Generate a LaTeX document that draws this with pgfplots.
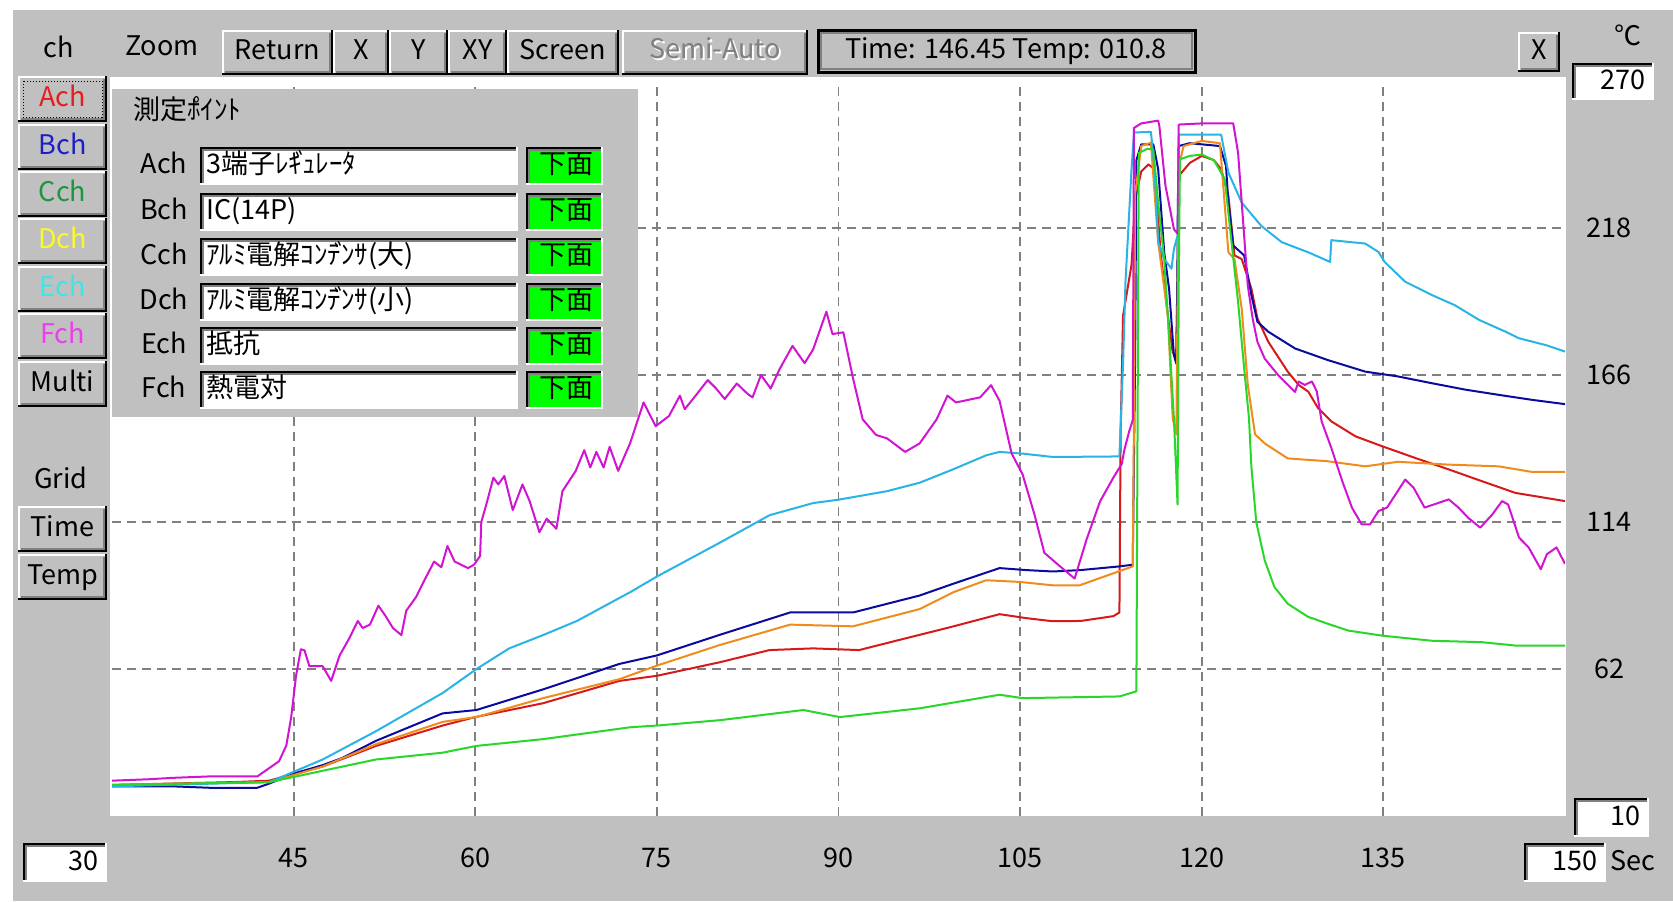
\documentclass[border=0pt]{standalone}
\usepackage{fontspec}
\setmainfont{Noto Sans CJK JP}
\usepackage{pgfplots}
\pgfplotsset{compat=1.18}

\definecolor{wingray}{RGB}{192,192,192}
\definecolor{dkgray}{RGB}{128,128,128}
\definecolor{cA}{RGB}{215,25,25}
\definecolor{cB}{RGB}{10,10,160}
\definecolor{cC}{RGB}{40,215,40}
\definecolor{cD}{RGB}{240,140,30}
\definecolor{cE}{RGB}{40,180,230}
\definecolor{cF}{RGB}{210,20,210}
\definecolor{okgreen}{RGB}{0,255,0}
\definecolor{tA}{RGB}{230,30,30}
\definecolor{tB}{RGB}{30,30,200}
\definecolor{tC}{RGB}{30,150,60}
\definecolor{tD}{RGB}{250,250,40}
\definecolor{tE}{RGB}{60,230,230}
\definecolor{tF}{RGB}{240,60,240}

\newcommand{\uif}{\fontsize{13.5}{14}\selectfont}
\newcommand{\dk}{\kern-0.26em ﾞ\kern-0.24em\relax}  % tight half-width dakuten
\newcommand{\hdk}{\kern-0.26em ﾟ\kern-0.24em\relax} % tight half-width handakuten

% raised button: x1 y1 x2 y2 label
\newcommand{\rbtn}[5]{%
  \fill[wingray] (#1,#2) rectangle (#3,#4);
  \draw[white,line width=1pt] (#1+1,#4) -- (#1+1,#2+1) -- (#3,#2+1);
  \draw[black,line width=1pt] (#1,#4-1) -- (#3-1,#4-1) -- (#3-1,#2);
  \draw[dkgray,line width=1pt] (#1+3,#4-3) -- (#3-3,#4-3) -- (#3-3,#2+3);
  \node[ui] at ({(#1+#3)/2},{(#2+#4)/2}) {#5};
}
% sunken box: x1 y1 x2 y2 fill
\newcommand{\sunk}[5]{%
  \fill[#5] (#1,#2) rectangle (#3,#4);
  \draw[black,line width=1.5pt] (#1+1,#4) -- (#1+1,#2+1) -- (#3,#2+1);
  \draw[dkgray,line width=1pt] (#1+3,#4-1) -- (#1+3,#2+3) -- (#3-1,#2+3);
  \draw[white,line width=1pt] (#1,#4-1) -- (#3-1,#4-1) -- (#3-1,#2);
}

\begin{document}
\begin{tikzpicture}[ui/.style={font=\uif, inner sep=0pt, text height=0.73em, text depth=0pt}]
% background
\begin{scope}[x=0.5pt,y=-0.5pt]
  \fill[white] (0,0) rectangle (1673,901);
  \fill[wingray] (13,10) rectangle (1673,901);
  \fill[white] (110,77) rectangle (1566,816);
\end{scope}

\begin{axis}[
    at={(56pt,-408pt)}, anchor=south west,
    scale only axis, width=726.5pt, height=367.5pt,
    xmin=30, xmax=150, ymin=10, ymax=270,
    axis line style={draw=none},
    major tick length=0pt,
    xtick={45,60,75,90,105,120,135},
    xticklabels={45,60,75,90,105,120,135},
    ytick={62,114,166,218},
    yticklabels={62,114,166,218},
    yticklabel pos=right,
    grid=major,
    grid style={dkgray, line width=0.9pt, dash pattern=on 4.5pt off 3pt},
    xticklabel style={font=\uif, anchor=center, yshift=-21pt, inner sep=0pt},
    yticklabel style={font=\uif, anchor=center, xshift=22pt, inner sep=0pt},
    every axis plot/.append style={line width=1pt, line join=round},
]
% Ach  3-terminal regulator
\addplot[cA] coordinates {
(30,21) (35,21.5) (40,22) (43,22.5) (45,25) (47.4,27.5) (51.8,34.8) (57.3,42) (60,45) (65.6,49.9)
(71.9,57.8) (75,59.6) (80.2,64.4) (84.3,68.7) (87.9,69.3) (91.7,68.7) (96.7,74.1) (99.5,77.1)
(103.3,81.4) (105.5,80) (107.7,78.9) (110,79) (112.7,80.7) (113.2,82) (113.3,146) (113.5,187)
(114.2,205) (114.5,228) (115,238) (115.6,240.5) (116.1,238.8) (116.6,209.4) (117.2,187) (117.6,174)
(117.9,172) (118,200) (118.1,236.4) (119,241) (120,243.5) (121,242) (121.6,238.8) (122.2,229.4)
(122.7,208.3) (123.3,207) (124.1,196.5) (124.6,186) (125.5,177.7) (127.1,167.2) (128,162.5)
(128.8,160.1) (129.6,154.3) (130.7,149.6) (132.7,144.3) (134.9,140.8) (137.6,136.7) (140.4,132.6)
(143.1,128.5) (145.9,124.3) (150,121.4)
};
% Bch  IC
\addplot[cB] coordinates {
(30,20.5) (35,20.5) (38,20) (42,20) (43,21.5) (45,25) (47.4,28) (49,30.5) (51.8,36.6) (57.3,46.3)
(60.1,47.5) (65.6,54.8) (71.9,63.8) (75,66.8) (80.2,74.1) (86,82) (91.2,82) (96.7,88) (99.5,92.2)
(103.3,97.7) (105.5,97) (107.7,96.5) (110,97) (113.2,98.3) (114.3,98.9) (114.5,174) (114.6,242)
(115,247.6) (116,247.6) (116.4,238.8) (116.9,209.4) (117.3,196.5) (117.7,173) (117.9,170)
(118.1,247) (119,248) (121.5,247) (122,240) (122.2,227) (122.6,211.8) (123.5,208.3) (124.1,194.2)
(124.6,184.8) (125.5,181.3) (127.7,175.4) (130.4,171.3) (133.5,167.2) (136.2,165.5) (139,163.1)
(141.8,160.8) (144.5,159) (147.3,157.2) (150,155.7)
};
% Dch  small electrolytic capacitor
\addplot[cD] coordinates {
(30,21) (43,22) (45,24.5) (47.4,27.5) (51.8,35.4) (57.3,43.3) (60.1,45) (65.6,51.7) (71.9,58.4)
(75,63.2) (80.2,70.5) (86,77.7) (91.2,77.1) (96.7,83.2) (99.5,89.2) (102.2,93.4) (105,92.8)
(107.7,91.6) (109.9,91.6) (114.3,98.3) (114.4,150) (114.5,230) (115,247) (115.8,248.2) (116.4,213)
(117.2,187.1) (117.6,150.7) (117.9,145) (118.1,240) (118.5,247) (120,248.8) (121.5,248) (122.2,209.4)
(122.7,207) (123.3,189.5) (123.8,162.5) (124.4,145) (125.2,141.8) (127.1,136.5) (130.4,135.5)
(133.5,133.7) (136.2,135.3) (140.4,134.3) (144.5,133.7) (147.3,131.7) (150,131.7)
};
% Ech  resistor
\addplot[cE] coordinates {
(30,20.5) (43,22) (45.2,26) (47.4,30) (51.8,40) (57.3,53.5) (60.1,62) (62.8,69.3) (65.6,74)
(68.4,79) (72.8,89.2) (75,94.7) (80.2,106.7) (84.3,116.4) (87.9,120.7) (90,121.9) (94,124.9)
(96.7,127.9) (99.5,132.7) (102.2,137.6) (103.3,138.8) (105.2,138.2) (107.7,137) (113.2,137.2)
(113.5,170) (113.7,199) (114.2,238.8) (114.4,251.8) (115.8,252) (116.1,238.8) (116.4,213)
(116.9,207) (117.5,203.6) (117.7,210.6) (118,215.3) (118.1,251) (121.6,251) (122.2,237.6)
(123.3,227) (124.9,218.8) (126.6,213) (128,210.7) (128.8,209.4) (130.6,206) (130.7,213.7)
(133.5,212.5) (134.6,209.5) (135.1,206) (136.8,199) (139,194.3) (140.9,190.7) (142.9,185.5)
(145.1,181.3) (146.2,179) (148.4,176.6) (150,174.3)
};
% Fch  thermocouple
\addplot[cF] coordinates {
(30,22.5) (33,23) (35,23.5) (38,24) (42,24) (43,27) (43.8,29.4) (44.4,35) (44.8,45) (45.2,59.6)
(45.6,69) (45.9,68.6) (46.3,63) (47.4,63) (48.1,57.8) (48.8,66.8) (49.6,72.9) (50.3,79) (50.7,76.5)
(51.3,77.7) (52,84.4) (52.6,80.7) (53.2,76.5) (53.9,74) (54.3,82.6) (55.1,87.4) (55.8,93.4)
(56.6,100) (57.2,98) (57.7,105.5) (58.3,100) (59.4,97.7) (59.9,98.9) (60.4,102) (60.5,114)
(60.9,120) (61.5,129.7) (61.9,127.3) (62.4,130.3) (63.1,118.2) (63.9,127.3) (64.5,121.3)
(65.3,110.4) (65.9,115.2) (66.7,111.6) (67.2,124.9) (68.3,132.1) (69,139.4) (69.5,133.3) (70,138.8)
(70.6,133.3) (71.1,140.6) (71.8,132.1) (72.8,142) (73.9,156.3) (74.9,147.9) (76,151.5) (76.9,158.7)
(77.3,153.9) (78.2,158.7) (79.2,164.2) (79.9,161.2) (80.6,157.5) (81.6,163) (82.5,159.3)
(82.9,158.1) (83.6,166) (84.4,161.2) (85.1,167.8) (86.2,176.3) (87.2,170.2) (87.9,175) (89,188.4)
(89.5,180.5) (90.4,181.1) (91.2,164.8) (92,150.3) (93.1,144.8) (94,143.6) (95.5,138.8) (96.7,141.8)
(98.1,150.3) (99,158.7) (99.7,156.3) (101.7,158.1) (102.6,162.4) (103.3,156.9) (104.3,138.2)
(105.2,130.9) (106.2,116.4) (107,103.1) (108.3,98.3) (109.5,94) (110.5,108) (111.6,121.3)
(112.7,129.7) (113.4,134.6) (113.6,139.4) (114,146) (114.3,150) (114.4,253.4) (115,255) (116.4,256)
(116.5,254) (117,233) (117.7,217.6) (118,216) (118.1,254.6) (120,255) (122.6,255) (123,244.6)
(123.5,215.3) (123.8,197.7) (124.2,186) (124.6,177.7) (125.2,171.8) (126.3,166) (127.7,160)
(128,163.7) (128.5,162.5) (129.1,163.7) (129.5,160.2) (129.9,149.6) (130.7,140.2) (131.6,128.5)
(132.4,119.1) (133.2,113.2) (133.9,113.2) (134.6,117.9) (135.3,119.1) (136.8,129) (137.5,126.1)
(138.4,119.1) (140.4,122) (141.2,119.1) (142,115.5) (143,112) (144,116.7) (144.8,121.4)
(145.3,120.2) (146.2,108.5) (147,105) (148,97.3) (148.5,102.6) (149.3,105) (150,99.2)
};
% Cch  large electrolytic capacitor
\addplot[cC] coordinates {
(30,21) (43,22) (45.2,24) (51.8,30) (57.3,32.4) (60.1,34.8) (65.6,37.2) (72.8,41.4) (75,42)
(80.2,43.9) (87.1,47.5) (90.1,45) (96.7,48.1) (103.3,52.9) (105.2,51.7) (113.2,52.3) (114.6,54.1)
(114.7,150) (114.8,244.6) (115.5,246) (116,245.8) (116.4,227) (116.9,207) (117.3,180) (117.7,150.7)
(118,120.2) (118.1,200) (118.2,242.3) (119,243.5) (120,244) (121,242) (121.9,235.3) (122.4,215.3)
(123,191.8) (123.5,168.4) (123.9,150.7) (124.1,133.4) (124.5,114) (125.2,100.4) (126,91)
(127.1,85.1) (128,82.6) (128.8,80.4) (129.3,79.7) (130.4,78) (132.1,75.6) (134.9,73.8) (139,72)
(143.1,71.5) (145.9,70.3) (150,70.3)
};
\end{axis}

% window chrome drawn on top
\begin{scope}[x=0.5pt,y=-0.5pt]
  % top bar
  \node[ui] at (59,50) {ch};
  \node[ui] at (162,48) {Zoom};
  \rbtn{222}{30}{333}{75}{Return}
  \rbtn{333}{30}{389}{75}{X}
  \rbtn{389}{30}{448}{75}{Y}
  \rbtn{448}{30}{507}{75}{XY}
  \rbtn{507}{30}{619}{75}{Screen}
  \rbtn{622}{30}{808}{75}{}
  \node[ui,white] at (717,53) {Semi-Auto};
  \node[ui,dkgray] at (715,51) {Semi-Auto};
  \fill[wingray] (818,30) rectangle (1195,72);
  \draw[black,line width=1.5pt] (818,30) rectangle (1195,72);
  \draw[dkgray,line width=0.7pt] (821,33) rectangle (1192,69);
  \node[ui] at (1006,51) {Time: 146.45 Temp: 010.8};
  \rbtn{1518}{32}{1560}{72}{X}
  \node[ui] at (1628,38) {℃};

  % axis limit boxes
  \sunk{1572}{63}{1654}{100}{white}
  \node[ui,anchor=east] at (1646,82) {270};
  \sunk{1574}{798}{1649}{837}{white}
  \node[ui,anchor=east] at (1641,818) {10};
  \sunk{23}{843}{107}{882}{white}
  \node[ui,anchor=east] at (99,863) {30};
  \sunk{1524}{843}{1606}{882}{white}
  \node[ui,anchor=east] at (1598,863) {150};
  \node[ui,anchor=west] at (1610,863) {Sec};

  % channel buttons
  \rbtn{18}{76}{107}{122}{\textcolor{tA}{Ach}}
  \draw[black,line width=0.5pt,dash pattern=on 0.5pt off 1pt] (23,81) rectangle (102,117);
  \rbtn{18}{124}{107}{170}{\textcolor{tB}{Bch}}
  \rbtn{18}{171}{107}{217}{\textcolor{tC}{Cch}}
  \rbtn{18}{218}{107}{264}{\textcolor{tD}{Dch}}
  \rbtn{18}{266}{107}{312}{\textcolor{tE}{Ech}}
  \rbtn{18}{313}{107}{359}{\textcolor{tF}{Fch}}
  \rbtn{18}{361}{107}{407}{Multi}
  \node[ui] at (61,481) {Grid};
  \rbtn{18}{506}{107}{552}{Time}
  \rbtn{18}{554}{107}{600}{Temp}

  % measuring point panel
  \fill[wingray] (112,89) rectangle (638,417);
  \node[ui,anchor=west] at (133,112) {測定ﾎ\hdk ｲﾝﾄ};
  \foreach \yc/\ch/\name in {166/Ach/3端子ﾚｷ\dk ｭﾚｰﾀ, 212/Bch/IC(14P), 257/Cch/ｱﾙﾐ電解ｺﾝﾃ\dk ﾝｻ(大),
                             302/Dch/ｱﾙﾐ電解ｺﾝﾃ\dk ﾝｻ(小), 346/Ech/抵抗, 390/Fch/熱電対}{
    \node[ui] at (164,\yc) {\ch};
    \sunk{200}{\yc-19}{518}{\yc+19}{white}
    \node[ui,anchor=west] at (206,\yc) {\name};
    \sunk{526}{\yc-19}{603}{\yc+19}{okgreen}
    \node[ui] at (566,\yc) {下面};
  }
\end{scope}
\end{tikzpicture}
\end{document}
